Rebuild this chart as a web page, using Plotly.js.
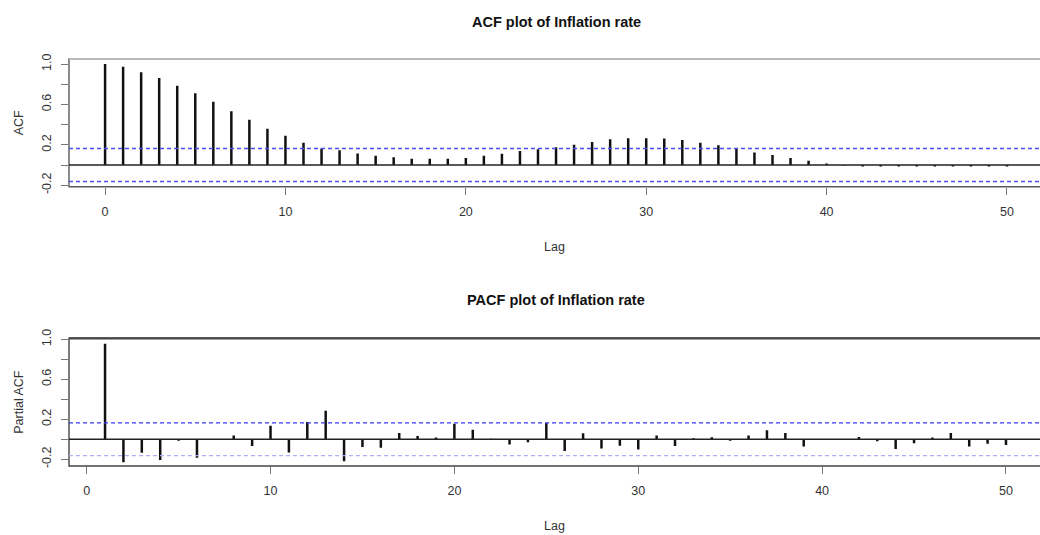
<!DOCTYPE html>
<html>
<head>
<meta charset="utf-8">
<script src="https://cdn.plot.ly/plotly-3.0.1.min.js"></script>
<style>html,body{margin:0;padding:0;background:#fff;overflow:hidden}#chart{width:1040px;height:535px}</style>
</head>
<body>
<div id="chart"></div>
<script>
// ---- data ----
const acfLags = [0,1,2,3,4,5,6,7,8,9,10,11,12,13,14,15,16,17,18,19,20,21,22,23,24,25,26,27,28,29,30,31,32,33,34,35,36,37,38,39,40,41,42,43,44,45,46,47,48,49,50];
const acfValues = [1.0,0.974,0.918,0.862,0.786,0.710,0.627,0.532,0.449,0.359,0.290,0.220,0.163,0.145,0.115,0.092,0.076,0.063,0.062,0.062,0.069,0.092,0.112,0.139,0.155,0.175,0.201,0.228,0.254,0.264,0.265,0.263,0.248,0.221,0.195,0.162,0.125,0.099,0.069,0.043,0.016,-0.004,-0.015,-0.014,-0.015,-0.016,-0.015,-0.016,-0.015,-0.016,-0.015];
const pacfLags = [1,2,3,4,5,6,7,8,9,10,11,12,13,14,15,16,17,18,19,20,21,22,23,24,25,26,27,28,29,30,31,32,33,34,35,36,37,38,39,40,41,42,43,44,45,46,47,48,49,50];
const pacfValues = [0.955,-0.231,-0.135,-0.208,-0.016,-0.185,-0.005,0.037,-0.069,0.136,-0.132,0.172,0.285,-0.221,-0.079,-0.086,0.063,0.033,0.017,0.156,0.096,0.005,-0.053,-0.030,0.163,-0.119,0.060,-0.092,-0.066,-0.102,0.037,-0.069,0.010,0.020,-0.016,0.037,0.089,0.063,-0.072,-0.005,-0.005,0.023,-0.020,-0.099,-0.040,0.017,0.063,-0.072,-0.046,-0.059];
const ciBound = 0.164;
const yTickVals = [-0.2,0,0.2,0.4,0.6,0.8,1.0];
const yTickText = ['-0.2','','0.2','','0.6','','1.0'];
const xTickVals = [0,10,20,30,40,50];
const xTickText = ['0','10','20','30','40','50'];
const titles = ['ACF plot of Inflation rate','PACF plot of Inflation rate'];
const yTitles = ['ACF','Partial ACF'];
const xTitle = 'Lag';

// ---- build stems ----
function stems(lags, vals){
  const x=[], y=[];
  lags.forEach((l,i)=>{ x.push(l,l,null); y.push(0,vals[i],null); });
  return {x,y};
}
const s1 = stems(acfLags, acfValues);
const s2 = stems(pacfLags, pacfValues);
const FONT = 'Liberation Sans, Arial, sans-serif';

const traces = [
  {x:s1.x, y:s1.y, xaxis:'x', yaxis:'y', mode:'lines', line:{color:'#111', width:2.5}, hoverinfo:'skip', showlegend:false},
  {x:s2.x, y:s2.y, xaxis:'x2', yaxis:'y2', mode:'lines', line:{color:'#111', width:2.5}, hoverinfo:'skip', showlegend:false}
];

const xl = 69/1040;
function xax(range, anchor){
  return {domain:[xl,1], range:range, anchor:anchor, showgrid:false, zeroline:false,
    showline:false, ticks:'outside', ticklen:7, tickwidth:1, tickcolor:'#777',
    ticklabelstandoff:6,
    tickvals:xTickVals, ticktext:xTickText, tickfont:{family:FONT,size:12.5,color:'#333'},
    title:{text:xTitle, font:{family:FONT,size:12.5,color:'#333'}, standoff:24}};
}
function yax(range, domain, anchor, title){
  return {domain:domain, range:range, anchor:anchor, showgrid:false, zeroline:false,
    showline:false, ticks:'outside', ticklen:7, tickwidth:1, tickcolor:'#777',
    ticklabelstandoff:5,
    tickvals:yTickVals, ticktext:yTickText, tickangle:-90,
    tickfont:{family:FONT,size:12.5,color:'#333'},
    title:{text:title, font:{family:FONT,size:12.5,color:'#333'}, standoff:13}};
}

const dash = '4px,3px';
function panelShapes(xr, yr, boxColor, topColor, upperCiColor, lowerCiColor){
  return [
    {type:'rect', xref:xr+' domain', yref:yr+' domain', x0:0, x1:1.02, y0:0, y1:1, line:{color:boxColor,width:1.4}, layer:'above'},
    {type:'line', xref:xr+' domain', yref:yr+' domain', x0:0, x1:1.02, y0:1, y1:1, line:{color:topColor,width:2.2}, layer:'above'},
    {type:'line', xref:xr+' domain', yref:yr, x0:0, x1:1, y0:0, y1:0, line:{color:'#222',width:1.4}},
    {type:'line', xref:xr+' domain', yref:yr, x0:0, x1:1, y0:ciBound, y1:ciBound, line:{color:upperCiColor,width:1.4,dash:dash}},
    {type:'line', xref:xr+' domain', yref:yr, x0:0, x1:1, y0:-ciBound, y1:-ciBound, line:{color:lowerCiColor,width:1.4,dash:dash}}
  ];
}

const layout = {
  width:1040, height:535, margin:{l:0,r:0,t:0,b:0},
  paper_bgcolor:'#fff', plot_bgcolor:'#fff',
  xaxis: xax([-2, 51.83], 'y'),
  yaxis: yax([-0.215, 1.05], [(535-186.7)/535, (535-59)/535], 'x', yTitles[0]),
  xaxis2: xax([-0.96, 51.85], 'y2'),
  yaxis2: yax([-0.268, 1.01], [(535-466)/535, (535-338.3)/535], 'x2', yTitles[1]),
  shapes: panelShapes('x','y','#5a5a5a','#b8b8b8','#4a4af5','#5050f5').concat(panelShapes('x2','y2','#444','#444','#3a3af5','#aab0fa')),
  annotations:[
    {text:'<b>'+titles[0]+'</b>', xref:'paper', yref:'paper', x:556/1040, y:(535-22)/535, showarrow:false, xanchor:'center', yanchor:'middle', font:{family:FONT,size:14.5,color:'#111'}},
    {text:'<b>'+titles[1]+'</b>', xref:'paper', yref:'paper', x:556/1040, y:(535-300)/535, showarrow:false, xanchor:'center', yanchor:'middle', font:{family:FONT,size:14.5,color:'#111'}}
  ]
};

Plotly.newPlot('chart', traces, layout, {staticPlot:true, displayModeBar:false});
</script>
</body>
</html>
